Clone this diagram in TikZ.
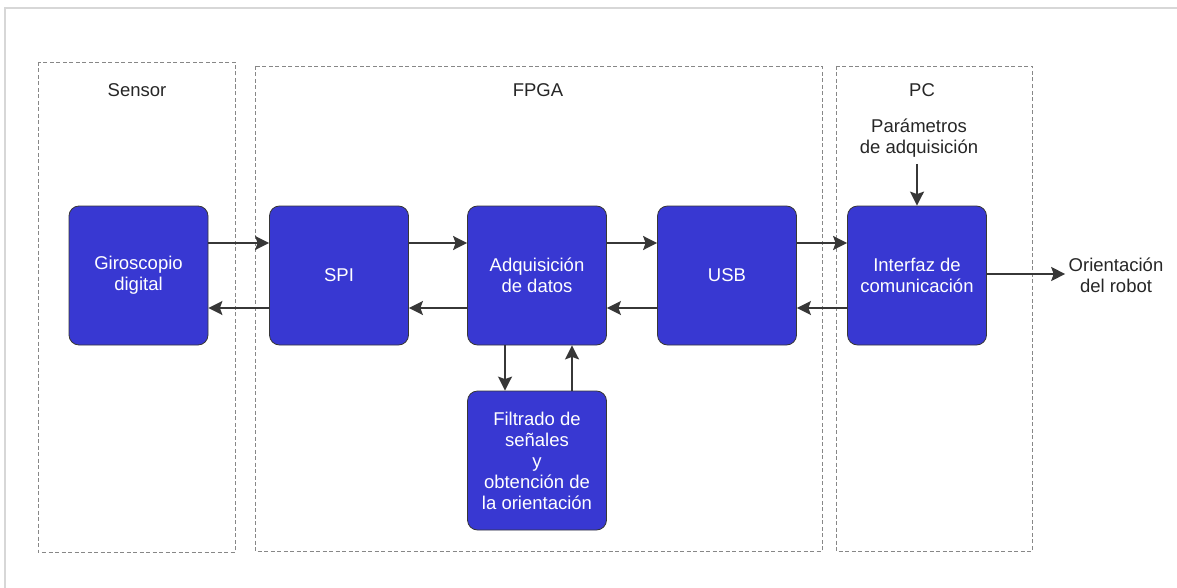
\documentclass[tikz,border=0pt]{standalone}
\usepackage{fontspec}
\setmainfont{Liberation Sans}
\usetikzlibrary{arrows.meta}
\definecolor{blockblue}{RGB}{56,56,210}
\definecolor{arrowgray}{RGB}{55,55,55}
\definecolor{dashgray}{RGB}{135,135,135}
\definecolor{framegray}{RGB}{215,215,215}
\tikzset{
  block/.style={draw=arrowgray, line width=0.8pt, fill=blockblue, rounded corners=10pt,
    minimum width=139pt, minimum height=139pt, inner sep=0pt, text=white, align=center,
    font=\fontsize{18.5}{21}\selectfont},
  label/.style={text=black!85, align=center, font=\fontsize{18.5}{21}\selectfont},
  group/.style={draw=dashgray, line width=0.9pt, dash pattern=on 4pt off 2.5pt},
  arr/.style={draw=arrowgray, line width=1.8pt,
    -{Stealth[length=14pt, width=14pt, inset=2.5pt]}},
}
\begin{document}
\begin{tikzpicture}[x=1pt, y=-1pt]
  \useasboundingbox (0,0) rectangle (1177,588);
  % outer frame
  \draw[framegray, line width=1.2pt] (5,588) -- (5,8) -- (1177,8);

  % groups
  \draw[group] (38,62) rectangle (235,552);
  \draw[group] (255,66) rectangle (822,551);
  \draw[group] (836,66) rectangle (1032,551);
  \node[label] (lsensor) at (137,90) {Sensor};
  \node[label] (lfpga) at (538,90) {FPGA};
  \node[label] (lpc) at (922,90) {PC};

  % blocks
  \node[block] (gyro) at (138.5,275.5) {Giroscopio\\digital};
  \node[block] (spi) at (339,275.5) {SPI};
  \node[block] (adq) at (537,275.5) {Adquisición\\de datos};
  \node[block] (usb) at (727,275.5) {USB};
  \node[block] (intf) at (917,275.5) {Interfaz de\\comunicación};
  \node[block] (filt) at (537,460.5) {Filtrado de\\señales\\y\\obtención de\\la orientación};

  % external labels
  \node[label] (param) at (919,138) {Parámetros\\de adquisición};
  \node[label] (orient) at (1116,275) {Orientación\\del robot};

  % forward path
  \draw[arr] (gyro.east |- 0,243) -- (spi.west |- 0,243);
  \draw[arr] (spi.east |- 0,243) -- (adq.west |- 0,243);
  \draw[arr] (adq.east |- 0,243) -- (usb.west |- 0,243);
  \draw[arr] (usb.east |- 0,243) -- (intf.west |- 0,243);
  % return path
  \draw[arr] (intf.west |- 0,308) -- (usb.east |- 0,308);
  \draw[arr] (usb.west |- 0,308) -- (adq.east |- 0,308);
  \draw[arr] (adq.west |- 0,308) -- (spi.east |- 0,308);
  \draw[arr] (spi.west |- 0,308) -- (gyro.east |- 0,308);
  % processing loop
  \draw[arr] (adq.south -| 505,0) -- (filt.north -| 505,0);
  \draw[arr] (filt.north -| 572,0) -- (adq.south -| 572,0);
  % PC side
  \draw[arr] (param.south -| intf.north) ++(0,3) -- (intf.north);
  \draw[arr] (intf.east |- 0,274) -- (orient.west |- 0,274);
\end{tikzpicture}
\end{document}
